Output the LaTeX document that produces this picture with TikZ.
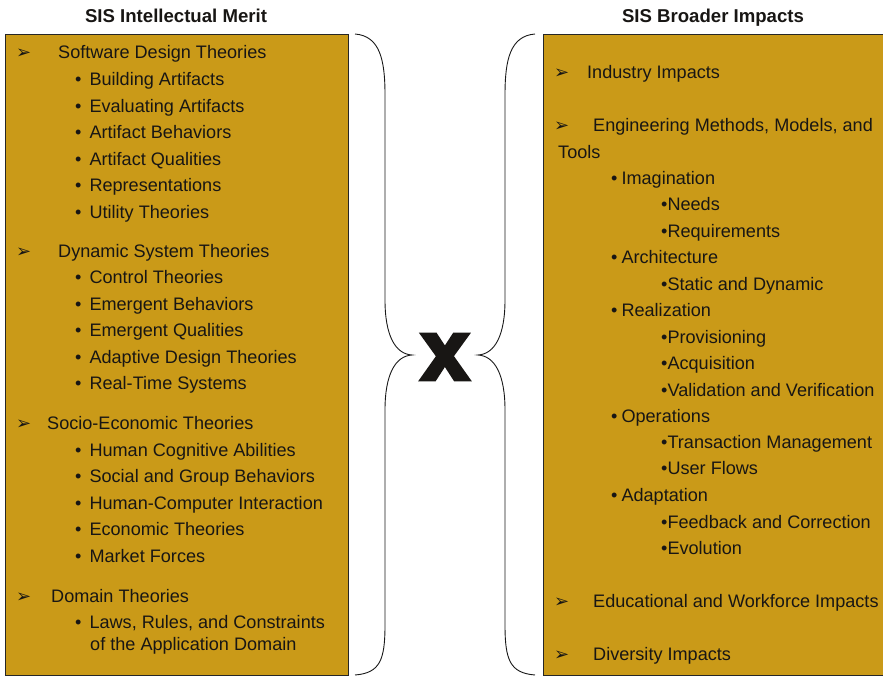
\documentclass[tikz,border=0pt]{standalone}
\usepackage{fontspec}
\setmainfont{Liberation Sans}
\newfontfamily\dingfont{DejaVu Sans}
\newfontfamily\crossfont[FakeBold=5]{Liberation Sans Bold}
\usetikzlibrary{positioning}
\definecolor{gold}{RGB}{202,154,24}
\definecolor{ink}{RGB}{24,22,20}
\tikzstyle{box}=[draw=black!85,fill=gold,line width=0.8pt]
\tikzstyle{title}=[anchor=base,inner sep=0pt,text=ink,font=\fontsize{18.6}{21}\selectfont\bfseries]
\tikzstyle{entry}=[anchor=base west,inner sep=0pt,text=ink,font=\fontsize{18.1}{21}\selectfont]
\tikzstyle{arr}=[anchor=base west,inner sep=0pt,text=ink,font=\dingfont\fontsize{18}{20}\selectfont]
\tikzstyle{brace}=[draw=black!90,line width=0.9pt]
\newcommand{\bul}{\textbullet\hspace{8pt}}
\newcommand{\sbul}{\textbullet\hspace{4pt}}

\begin{document}
\begin{tikzpicture}[x=1pt,y=-1pt]
  \useasboundingbox (0,0) rectangle (883,677);
  % two boxes
  \draw[box] (5,34) rectangle (348,675);
  \draw[box] (543,34) rectangle (890,675);
  \node[title] (merit) at (176,23){SIS Intellectual Merit};
  \node[title] (impact) at (713,23){SIS Broader Impacts};
  % left box
  \node[arr] (a1) at (16,59){➢};
  \node[entry] (sdt) at (58,59){Software Design Theories};
  \node[entry] (build) at (75,85.5){\bul Building Artifacts};
  \node[entry] (eval) at (75,112){\bul Evaluating Artifacts};
  \node[entry] (behav) at (75,138.5){\bul Artifact Behaviors};
  \node[entry] (qual) at (75,165){\bul Artifact Qualities};
  \node[entry] (repr) at (75,191.5){\bul Representations};
  \node[entry] (util) at (75,218){\bul Utility Theories};
  \node[arr] (a2) at (16,257){➢};
  \node[entry] (dst) at (58,257){Dynamic System Theories};
  \node[entry] (ctrl) at (75,283.5){\bul Control Theories};
  \node[entry] (emb) at (75,310){\bul Emergent Behaviors};
  \node[entry] (emq) at (75,336.5){\bul Emergent Qualities};
  \node[entry] (adt) at (75,363){\bul Adaptive Design Theories};
  \node[entry] (rts) at (75,389.5){\bul Real-Time Systems};
  \node[arr] (a3) at (16,429.5){➢};
  \node[entry] (set) at (47,429.5){Socio-Economic Theories};
  \node[entry] (hca) at (75,456){\bul Human Cognitive Abilities};
  \node[entry] (sgb) at (75,482.5){\bul Social and Group Behaviors};
  \node[entry] (hci) at (75,509){\bul Human-Computer Interaction};
  \node[entry] (ect) at (75,535.5){\bul Economic Theories};
  \node[entry] (mkt) at (75,562){\bul Market Forces};
  \node[arr] (a4) at (16,602){➢};
  \node[entry] (dom) at (51,602){Domain Theories};
  \node[entry] (laws) at (75,628.5){\bul Laws, Rules, and Constraints};
  \node[entry] (appd) at (90,650){of the Application Domain};
  % right box
  \node[arr] (b1) at (554,78.5){➢};
  \node[entry] (ind) at (587,78.5){Industry Impacts};
  \node[arr] (b2) at (554,131.5){➢};
  \node[entry] (eng) at (593,131.5){Engineering Methods, Models, and};
  \node[entry] (tools) at (558,158){Tools};
  \node[entry] (imag) at (611,184){\sbul Imagination};
  \node[entry] (need) at (661,210.5){\textbullet Needs};
  \node[entry] (req) at (661,237){\textbullet Requirements};
  \node[entry] (arch) at (611,263.5){\sbul Architecture};
  \node[entry] (sdyn) at (661,290){\textbullet Static and Dynamic};
  \node[entry] (real) at (611,316.5){\sbul Realization};
  \node[entry] (prov) at (661,343){\textbullet Provisioning};
  \node[entry] (acq) at (661,369.5){\textbullet Acquisition};
  \node[entry] (vv) at (661,396){\textbullet Validation and Verification};
  \node[entry] (ops) at (611,422){\sbul Operations};
  \node[entry] (trans) at (661,448){\textbullet Transaction Management};
  \node[entry] (flow) at (661,474.5){\textbullet User Flows};
  \node[entry] (adap) at (611,501.5){\sbul Adaptation};
  \node[entry] (fbk) at (661,528){\textbullet Feedback and Correction};
  \node[entry] (evo) at (661,554){\textbullet Evolution};
  \node[arr] (b3) at (554,607){➢};
  \node[entry] (edu) at (593,607){Educational and Workforce Impacts};
  \node[arr] (b4) at (554,660){➢};
  \node[entry] (div) at (593,660){Diversity Impacts};
  % braces and the cross
  \draw[brace] (355,34) .. controls (380,36) and (385,60) .. (385,95) -- (385,300)
    .. controls (385,335) and (395,354) .. (412,355)
    .. controls (395,356) and (385,375) .. (385,410) -- (385,625)
    .. controls (385,660) and (380,673) .. (355,675);
  \draw[brace] (535,34) .. controls (510,36) and (505,60) .. (505,95) -- (505,300)
    .. controls (505,335) and (495,354) .. (478,355)
    .. controls (495,356) and (505,375) .. (505,410) -- (505,625)
    .. controls (505,660) and (510,673) .. (535,675);
  \node[inner sep=0pt,text=ink] (cross) at (445,357){\crossfont\fontsize{84}{84}\selectfont x};
\end{tikzpicture}
\end{document}
